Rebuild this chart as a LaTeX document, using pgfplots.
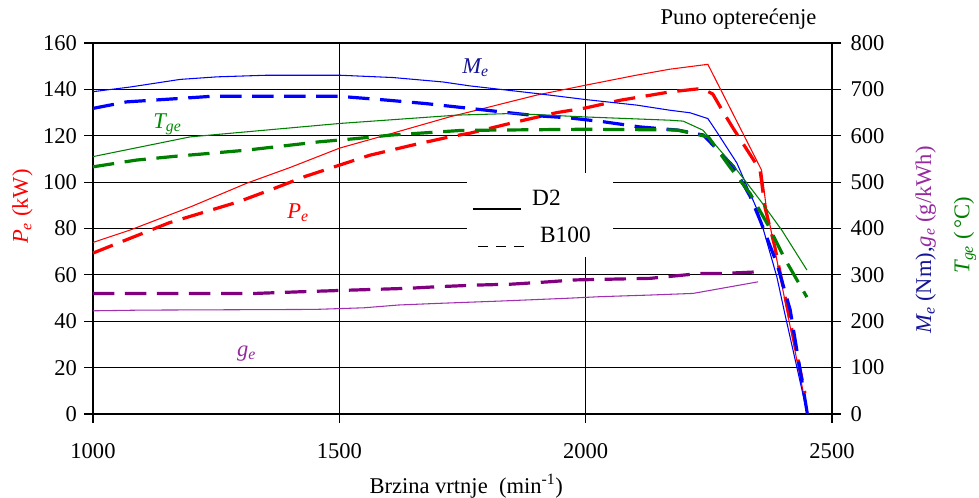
\documentclass[border=0pt]{standalone}
\usepackage{fontspec}
\setmainfont{Liberation Serif}
\usepackage{pgfplots}
\pgfplotsset{compat=1.18}
\definecolor{cred}{RGB}{255,0,0}
\definecolor{cblue}{RGB}{0,0,255}
\definecolor{cgreen}{RGB}{0,128,0}
\definecolor{cpurpD}{RGB}{128,0,128}
\definecolor{cpurpS}{RGB}{160,48,176}
\definecolor{cnavy}{RGB}{20,20,150}
\definecolor{cgreenT}{RGB}{0,140,0}
\definecolor{cpurpT}{RGB}{150,40,160}
\newcommand{\fs}{\fontsize{16.9}{20}\selectfont}
\pgfplotsset{
  dashB/.style={line width=2.4pt, line cap=butt, dash pattern=on 16pt off 8pt},
  solidD/.style={line width=0.8pt},
}
\begin{document}
\begin{tikzpicture}
\begin{axis}[
 scale only axis, width=554.25pt, height=278.25pt,
 xmin=1000,xmax=2500,ymin=0,ymax=160,
 xtick={1000,1500,2000,2500}, ytick={0,20,...,160},
 xtick pos=lower, ytick pos=left,
 tick align=outside, major tick length=6.5pt,
 xmajorgrids, ymajorgrids,
 grid style={black,line width=0.9pt},
 axis line style={black,line width=0.9pt},
 every tick/.style={black,line width=0.9pt},
 tick label style={font=\fs},
 yticklabel style={xshift=-2pt},
 /pgf/number format/assume math mode=true,
 /pgf/number format/1000 sep={},
 xticklabel style={yshift=-12pt},
 clip=false,
]
% legend box
\fill[white] (axis cs:1759,67.7) rectangle (axis cs:2055,103.9);
\draw[black,line width=0.8pt] (axis cs:1771,88.4) -- (axis cs:1869,88.4);
\node[anchor=base west,font=\fontsize{17.5}{20}\selectfont,inner sep=0] at (axis cs:1891,90.1) {D2};
\draw[black,line width=0.8pt,dash pattern=on 7.5pt off 6pt] (axis cs:1781,72.4) -- (axis cs:1881,72.4);
\node[anchor=base west,font=\fontsize{17.5}{20}\selectfont,inner sep=0] at (axis cs:1907,74.1) {B100};

% Pe D2
\addplot[cred, solidD] coordinates {
(1000,74) (1075,79.3) (1200,89.5) (1313,99.6) (1400,106.3) (1501,114.7) (1600,120.6)
(1725,128.2) (1765,130.3) (1900,137.5) (2000,141.8) (2100,146) (2171,148.7) (2248,150.8)
(2357,105.2) (2366,90) (2442,9)};
% Pe B100
\addplot[cred, dashB] coordinates {
(1000,69.4) (1090,77) (1155,82.5) (1295,91.5) (1362,96.8) (1430,102.4) (1500,107.3)
(1562,111.6) (1643,115.7) (1730,119.8) (1765,121.1) (1850,125.5) (1942,130) (2000,132)
(2070,135.3) (2171,138.9) (2236,140.4) (2258,138) (2277,131) (2300,123) (2354,105.2)
(2364,89) (2384,72) (2445,9)};

\node[anchor=base west,text=cnavy,font=\fs\itshape,inner sep=0] at (axis cs:1749,147) {M\textsubscript{e}};
\node[anchor=base west,text=cgreenT,font=\fs\itshape,inner sep=0] at (axis cs:1122,123.3) {T\textsubscript{ge}};
\node[anchor=base west,text=cred,font=\fs\itshape,inner sep=0] at (axis cs:1394,84.5) {P\textsubscript{e}};
\node[anchor=base west,text=cpurpT,font=\fs\itshape,inner sep=0] at (axis cs:1292,25) {g\textsubscript{e}};

\node[rotate=90,text=cred,font=\fs] at (rel axis cs:-0.0954,0.559) {\textit{P\textsubscript{e}} (kW)};
\node[anchor=base,font=\fs] at (rel axis cs:0.8735,1.051) {Puno opterećenje};
\node[anchor=base,font=\fs] at (rel axis cs:0.505,-0.213) {Brzina vrtnje\ \ (min\textsuperscript{-1})};
\end{axis}

\begin{axis}[
 scale only axis, width=554.25pt, height=278.25pt,
 xmin=1000,xmax=2500,ymin=0,ymax=800,
 axis x line=none, axis y line*=right,
 ytick={0,100,...,800},
 tick align=center, major tick length=13pt,
 axis line style={black,line width=0.9pt,-},
 every tick/.style={black,line width=0.9pt},
 tick label style={font=\fs},
 yticklabel style={xshift=4pt},
 /pgf/number format/assume math mode=true,
 clip=false,
]
% Me D2
\addplot[cblue, solidD] coordinates {
(1000,695) (1075,705) (1177,721.5) (1252,727) (1353,730.5) (1501,730.5) (1609,725.5)
(1710,716) (1765,707.5) (1901,691) (2000,678) (2104,666) (2171,655) (2212,649.5)
(2248,637) (2266,608.5) (2307,541) (2350,436) (2357,411.5) (2388,296) (2404,217.5) (2450,0)};
% Me B100
\addplot[cblue, dashB] coordinates {
(1000,659) (1068,673) (1170,680) (1240,685) (1500,685) (1530,682.5) (1600,676.5)
(1674,669.5) (1765,659) (1896,643.5) (1967,638.5) (2037,630) (2110,619) (2188,612)
(2239,601.5) (2300,533.5) (2334,469) (2354,418) (2388,325) (2415,225) (2450,0)};
% Tge D2
\addplot[cgreen, solidD] coordinates {
(1000,555) (1197,597.5) (1501,626.5) (1739,644.5) (1852,648) (2000,640.5) (2171,633.5)
(2198,631.5) (2238,612) (2307,526) (2354,461) (2398,396.5) (2449,310.5)};
% Tge B100
\addplot[cgreen, dashB] coordinates {
(1000,533) (1088,547.5) (1170,556) (1237,562) (1312,569) (1382,577.5) (1460,587)
(1535,594) (1606,601.5) (1677,606.5) (1748,611.5) (2000,614) (2185,612.5) (2249,597.5)
(2290,536.5) (2334,475) (2370,407.5) (2404,335) (2449,252)};
% ge D2
\addplot[cpurpS, solidD] coordinates {
(1000,222.5) (1100,224) (1450,225.5) (1550,229) (1620,235) (1700,238.5) (1826,243.5)
(1962,249.5) (2030,253) (2131,256.5) (2218,260) (2350,285)};
% ge B100
\addplot[cpurpD, dashB] coordinates {
(1000,260) (1330,260) (1420,263.5) (1520,267) (1640,271) (1700,274.5) (1780,278)
(1850,280) (1925,285) (1975,289) (2131,292.5) (2232,303) (2277,303) (2350,306.5)};

\node[rotate=90,font=\fs] at (rel axis cs:1.127,0.469) {\textcolor{cnavy}{\textit{M\textsubscript{e}} (Nm),}\textcolor{cpurpT}{\textit{g\textsubscript{e}} (g/kWh)}};
\node[rotate=90,text=cgreen,font=\fs] at (rel axis cs:1.18,0.482) {\textit{T\textsubscript{ge}} (\,°C)};
\end{axis}
\pgfresetboundingbox
\path[use as bounding box] ([shift={(-69.75pt,-63pt)}]current axis.south west) rectangle ([shift={(110.25pt,32.25pt)}]current axis.north east);
\end{tikzpicture}
\end{document}
